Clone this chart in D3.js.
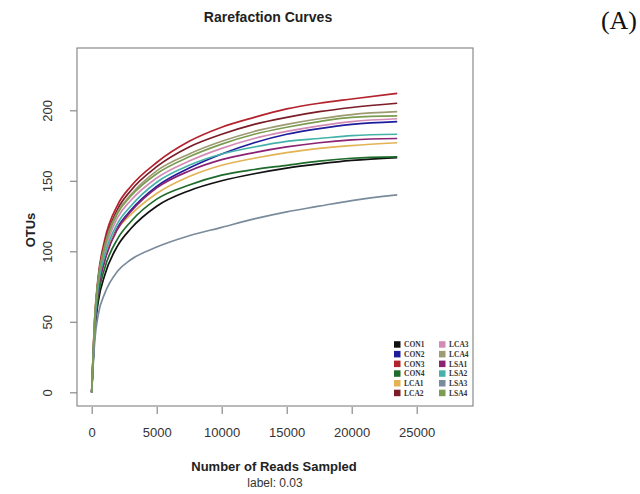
<!DOCTYPE html>
<html>
<head>
<meta charset="utf-8">
<script src="https://cdn.jsdelivr.net/npm/d3@7"></script>
<style>
body { margin: 0; background: #fff; }
</style>
</head>
<body>
<div id="chart"></div>
<script>
//Width and height
var w = 640;
var h = 494;

var reads = [0, 250, 500, 1000, 2000, 3000, 5000, 7500, 10000, 12500, 15000, 17500, 20000, 23500];

var samples = ["CON1", "CON2", "CON3", "CON4", "LCA1", "LCA2", "LCA3", "LCA4", "LSA1", "LSA2", "LSA3", "LSA4"];
var colors = ["#111111", "#1c1c9c", "#b3232d", "#1f6b2c", "#e3b354", "#7b1c26", "#d38bb5", "#9c9b72", "#8b2374", "#45b2aa", "#7a8b9c", "#7c9c52"];

var con1 = [0, 44, 64, 83, 104, 116, 132, 143, 150, 155, 159, 162, 164.5, 166.5];
var con2 = [0, 48, 72, 94, 117, 129, 146, 159, 169, 177, 183, 187, 190, 192];
var con3 = [0, 55, 82, 108, 133, 146, 163, 178, 188, 195, 201, 205, 208, 212];
var con4 = [0, 46, 68, 88, 109, 121, 137, 147, 154, 158, 161, 164, 166, 167];
var lca1 = [0, 56, 78, 96, 116, 126, 141, 153, 161, 166, 170, 173, 175, 177];
var lca2 = [0, 53, 80, 105, 130, 143, 160, 174, 183, 190, 195, 199, 202, 205];
var lca3 = [0, 52, 77, 100, 124, 136, 152, 164, 173, 180, 185, 189, 192, 194];
var lca4 = [0, 54, 80, 104, 128, 140, 157, 169, 178, 185, 190, 194, 197, 199];
var lsa1 = [0, 48, 72, 93, 116, 128, 145, 157, 165, 170, 174, 177, 179, 180];
var lsa2 = [0, 50, 75, 97, 120, 132, 149, 161, 169, 174, 178, 180, 182, 183];
var lsa3 = [0, 38, 55, 70, 86, 94, 103, 111, 117, 123, 128, 132, 136, 140];
var lsa4 = [0, 55, 80, 103, 127, 139, 155, 167, 176, 183, 188, 192, 195, 196];

var series = [con1, con2, con3, con4, lca1, lca2, lca3, lca4, lsa1, lsa2, lsa3, lsa4];

var xTicks = [0, 5000, 10000, 15000, 20000, 25000];
var yTicks = [0, 50, 100, 150, 200];

//plot box
var box = {left: 77, right: 473, top: 48, bottom: 406};

//Create scale functions
var xScale = d3.scaleLinear()
               .domain([0, 25000])
               .range([91.7, 416.7]);

var yScale = d3.scaleLinear()
               .domain([0, 200])
               .range([392.3, 110.3]);

//Create SVG element
var svg = d3.select("#chart")
            .append("svg")
            .attr("width", w)
            .attr("height", h)
            .style("font-family", "'Liberation Sans', Arial, sans-serif");

//curves
var line = d3.line()
             .x(function(d, i) { return xScale(reads[i]); })
             .y(function(d) { return yScale(d); })
             .curve(d3.curveMonotoneX);

svg.selectAll("path.curve")
   .data(series)
   .enter()
   .append("path")
   .attr("class", "curve")
   .attr("d", line)
   .attr("fill", "none")
   .attr("stroke", function(d, i) { return colors[i]; })
   .attr("stroke-width", 1.7);

//box
svg.append("rect")
   .attr("x", box.left)
   .attr("y", box.top)
   .attr("width", box.right - box.left)
   .attr("height", box.bottom - box.top)
   .attr("fill", "none")
   .attr("stroke", "#8a8a8a")
   .attr("stroke-width", 1.2);

//Define X axis
var xAxis = d3.axisBottom(xScale)
              .tickValues(xTicks)
              .tickSize(7)
              .tickPadding(14)
              .tickFormat(d3.format("d"));

//Define Y axis
var yAxis = d3.axisLeft(yScale)
              .tickValues(yTicks)
              .tickSize(7);

//Create X axis
var gx = svg.append("g")
    .attr("transform", "translate(0," + (box.bottom + 1) + ")")
    .call(xAxis);
gx.select(".domain").remove();
gx.selectAll("line").attr("stroke", "#8a8a8a").attr("stroke-width", 1.2);
gx.selectAll("text").attr("font-size", "13px").attr("fill", "#333").style("font-family", "'Liberation Sans', Arial, sans-serif");

//Create Y axis
var gy = svg.append("g")
    .attr("transform", "translate(" + box.left + ",0)")
    .call(yAxis);
gy.select(".domain").remove();
gy.selectAll("line").attr("stroke", "#8a8a8a").attr("stroke-width", 1.2);
gy.selectAll("text")
  .attr("x", 0)
  .attr("dy", 0)
  .attr("text-anchor", "middle")
  .attr("transform", "translate(-25.5,0) rotate(-90)")
  .attr("font-size", "13px")
  .attr("fill", "#333")
  .style("font-family", "'Liberation Sans', Arial, sans-serif");

//titles
svg.append("text")
   .attr("x", 268)
   .attr("y", 22)
   .attr("text-anchor", "middle")
   .attr("font-size", "14px")
   .attr("font-weight", "bold")
   .attr("fill", "#222")
   .text("Rarefaction Curves");

svg.append("text")
   .attr("x", 637)
   .attr("y", 29)
   .attr("text-anchor", "end")
   .attr("font-size", "26px")
   .attr("fill", "#111")
   .style("font-family", "'Liberation Serif', 'Times New Roman', serif")
   .text("(A)");

svg.append("text")
   .attr("x", 274)
   .attr("y", 471)
   .attr("text-anchor", "middle")
   .attr("font-size", "13px")
   .attr("font-weight", "bold")
   .attr("fill", "#222")
   .text("Number of Reads Sampled");

svg.append("text")
   .attr("x", 275)
   .attr("y", 487)
   .attr("text-anchor", "middle")
   .attr("font-size", "12px")
   .attr("fill", "#333")
   .text("label: 0.03");

svg.append("text")
   .attr("transform", "translate(35,230) rotate(-90)")
   .attr("text-anchor", "middle")
   .attr("font-size", "13px")
   .attr("font-weight", "bold")
   .attr("fill", "#222")
   .text("OTUs");

//legend, two columns of six
var legend = svg.selectAll("g.leg")
    .data(samples)
    .enter()
    .append("g")
    .attr("class", "leg")
    .attr("transform", function(d, i) {
        var col = Math.floor(i / 6);
        var row = i % 6;
        return "translate(" + (394 + col * 45) + "," + (344.5 + row * 9.7) + ")";
    });

legend.append("rect")
      .attr("x", 0)
      .attr("y", -3.3)
      .attr("width", 6.5)
      .attr("height", 6.5)
      .attr("fill", function(d, i) { return colors[i]; });

legend.append("text")
      .attr("x", 10)
      .attr("y", 2.6)
      .attr("font-size", "7.5px")
      .attr("font-weight", "bold")
      .attr("fill", "#333")
      .style("font-family", "'Liberation Serif', 'Times New Roman', serif")
      .text(function(d) { return d; });
</script>
</body>
</html>
